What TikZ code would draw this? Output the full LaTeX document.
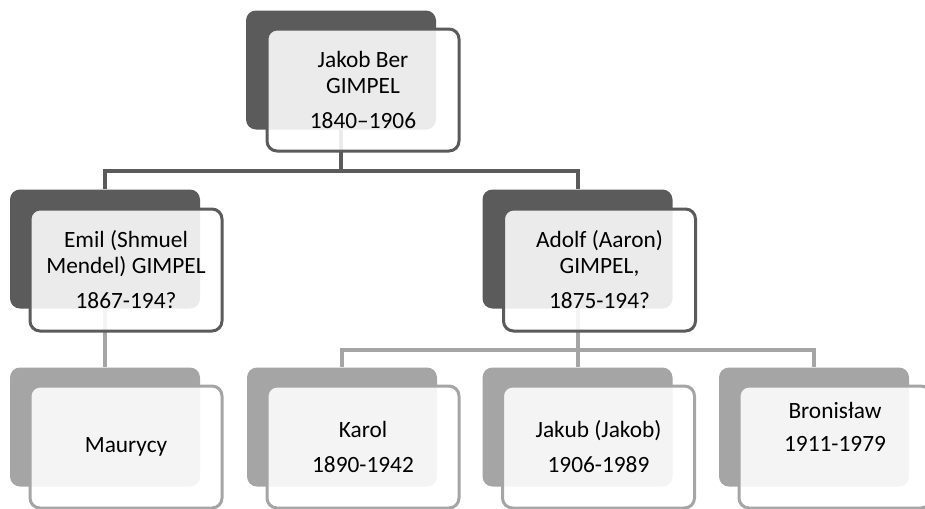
\documentclass[tikz,border=0pt]{standalone}
\usepackage{fontspec}
\setmainfont{Carlito}
\usetikzlibrary{positioning,calc}

\definecolor{darkbox}{HTML}{5B5B5B}
\definecolor{lightbox}{HTML}{A5A5A5}

\begin{document}
\begin{tikzpicture}[x=0.75pt, y=-0.75pt, font=\fontsize{17.5}{19.5}\selectfont,
    back/.style={rectangle, rounded corners=7.5pt, minimum width=142.5pt, minimum height=89.25pt, inner sep=0pt},
    darkback/.style={back, fill=darkbox},
    lightback/.style={back, fill=lightbox},
    front/.style={rectangle, rounded corners=7.5pt, line width=2.25pt, fill=white, fill opacity=0.88,
                  text opacity=1, minimum width=144pt, minimum height=91.5pt, inner sep=2pt, align=center},
    darkfront/.style={front, draw=darkbox},
    lightfront/.style={front, draw=lightbox},
    link/.style={line width=3pt, darkbox},
    lightlink/.style={line width=3pt, lightbox}]
    \useasboundingbox (0,0) rectangle (925,508);

    % shadow boxes
    \node[darkback] (jakobB) at (341,70) {};
    \node[darkback] (emilB) at (105,249) {};
    \node[darkback] (adolfB) at (577.5,249) {};
    \node[lightback] (maurycyB) at (105,427) {};
    \node[lightback] (karolB) at (342,427) {};
    \node[lightback] (jakubB) at (577.5,427) {};
    \node[lightback] (bronislawB) at (814,427) {};

    % connectors
    \coordinate (bus1) at (341,171);
    \coordinate (bus2) at (577.5,350);
    \draw[link] (jakobB.south) -- (bus1) -| (emilB.north);
    \draw[link] (bus1) -| (adolfB.north);
    \draw[lightlink] (emilB.south) -- (maurycyB.north);
    \draw[lightlink] (adolfB.south) -- (bus2) -| (karolB.north);
    \draw[lightlink] (bus2) -- (jakubB.north);
    \draw[lightlink] (bus2) -| (bronislawB.north);

    % front boxes
    \node[darkfront] (jakob) at ([shift={(22,20)}]jakobB.center) {Jakob Ber\\GIMPEL\\[6.75pt]1840–1906};
    \node[darkfront] (emil) at ([shift={(21,21)}]emilB.center) {Emil (Shmuel\\Mendel) GIMPEL\\[6.75pt]1867-194?};
    \node[darkfront] (adolf) at ([shift={(22,21)}]adolfB.center) {Adolf (Aaron)\\GIMPEL,\\[6.75pt]1875-194?};
    \node[lightfront] (maurycy) at ([shift={(21,20)}]maurycyB.center) {Maurycy};
    \node[lightfront] (karol) at ([shift={(21,20)}]karolB.center) {Karol\\[6.75pt]1890-1942};
    \node[lightfront] (jakub) at ([shift={(21,20)}]jakubB.center) {Jakub (Jakob)\\[6.75pt]1906-1989};
    \node[lightfront, text depth=30pt] (bronislaw) at ([shift={(21,20)}]bronislawB.center) {Bronisław\\[5pt]1911-1979};
\end{tikzpicture}
\end{document}
